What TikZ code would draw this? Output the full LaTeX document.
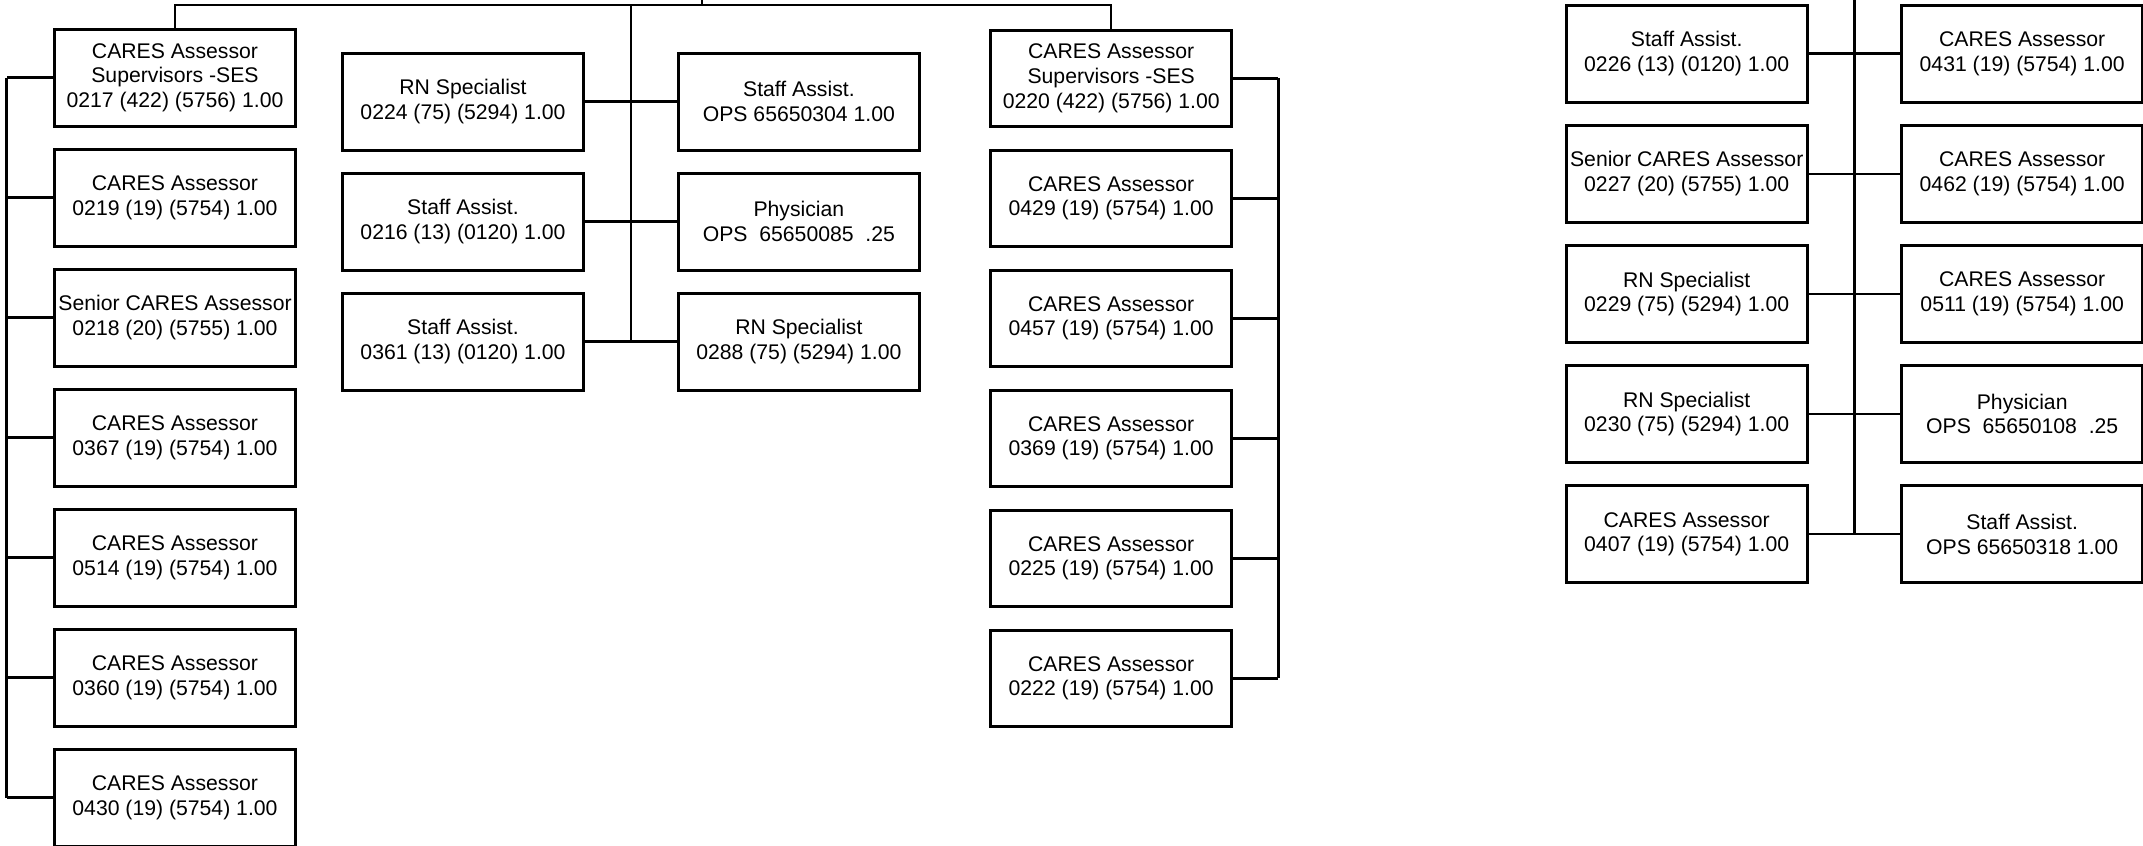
\documentclass[tikz,border=0pt]{standalone}
\usepackage{fontspec}
\setmainfont{Liberation Sans}
\begin{document}
\begin{tikzpicture}[x=0.5pt,y=-0.5pt,
  box/.style={draw,line width=1.5pt,minimum width=120.5pt,minimum height=48.3pt,inner sep=0pt,align=center,font=\fontsize{10.6}{12.3}\selectfont},
  conn/.style={line width=1.25pt}]
\useasboundingbox (0,0) rectangle (2143,846);
% left column
\node[box] (L1) at (175,77.7) {CARES Assessor\\Supervisors -SES\\0217 (422) (5756) 1.00};
\node[box] (L2) at (175,197.7) {CARES Assessor\\0219 (19) (5754) 1.00};
\node[box] (L3) at (175,317.7) {Senior CARES Assessor\\0218 (20) (5755) 1.00};
\node[box] (L4) at (175,437.7) {CARES Assessor\\0367 (19) (5754) 1.00};
\node[box] (L5) at (175,557.7) {CARES Assessor\\0514 (19) (5754) 1.00};
\node[box] (L6) at (175,677.7) {CARES Assessor\\0360 (19) (5754) 1.00};
\node[box] (L7) at (175,797.7) {CARES Assessor\\0430 (19) (5754) 1.00};
% middle columns
\node[box] (Ma1) at (463,101.7) {RN Specialist\\0224 (75) (5294) 1.00};
\node[box] (Ma2) at (463,221.7) {Staff Assist.\\0216 (13) (0120) 1.00};
\node[box] (Ma3) at (463,341.7) {Staff Assist.\\0361 (13) (0120) 1.00};
\node[box] (Mb1) at (798.9,101.7) {Staff Assist.\\OPS 65650304 1.00};
\node[box] (Mb2) at (798.9,221.7) {Physician\\OPS\ \ 65650085\ \ .25};
\node[box] (Mb3) at (798.9,341.7) {RN Specialist\\0288 (75) (5294) 1.00};
% right column
\node[box] (R1) at (1111.2,78.3) {CARES Assessor\\Supervisors -SES\\0220 (422) (5756) 1.00};
\node[box] (R2) at (1111.2,198.3) {CARES Assessor\\0429 (19) (5754) 1.00};
\node[box] (R3) at (1111.2,318.3) {CARES Assessor\\0457 (19) (5754) 1.00};
\node[box] (R4) at (1111.2,438.3) {CARES Assessor\\0369 (19) (5754) 1.00};
\node[box] (R5) at (1111.2,558.3) {CARES Assessor\\0225 (19) (5754) 1.00};
\node[box] (R6) at (1111.2,678.3) {CARES Assessor\\0222 (19) (5754) 1.00};
% far right group
\node[box] (FL1) at (1686.7,53.7) {Staff Assist.\\0226 (13) (0120) 1.00};
\node[box] (FL2) at (1686.7,173.8) {Senior CARES Assessor\\0227 (20) (5755) 1.00};
\node[box] (FL3) at (1686.7,293.9) {RN Specialist\\0229 (75) (5294) 1.00};
\node[box] (FL4) at (1686.7,414.0) {RN Specialist\\0230 (75) (5294) 1.00};
\node[box] (FL5) at (1686.7,534.2) {CARES Assessor\\0407 (19) (5754) 1.00};
\node[box] (FR1) at (2022.2,53.7) {CARES Assessor\\0431 (19) (5754) 1.00};
\node[box] (FR2) at (2022.2,173.8) {CARES Assessor\\0462 (19) (5754) 1.00};
\node[box] (FR3) at (2022.2,293.9) {CARES Assessor\\0511 (19) (5754) 1.00};
\node[box] (FR4) at (2022.2,414.0) {Physician\\OPS\ \ 65650108\ \ .25};
\node[box] (FR5) at (2022.2,534.2) {Staff Assist.\\OPS 65650318 1.00};
% connectors
\coordinate (topL) at (175,5);
\coordinate (tick) at (702,0);
\coordinate (mbus) at (631,5);
\coordinate (lbus) at (6.5,0);
\coordinate (rbus) at (1278.3,0);
\coordinate (fbus) at (1854.5,0);
\draw[conn] (L1.north) -- (L1.north |- topL) -- (R1.north |- topL) -- (R1.north);
\draw[conn] (tick) -- (tick |- topL);
\draw[conn] (mbus) -- (mbus |- Ma3.east);
\foreach \i in {1,2,3} \draw[conn] (Ma\i.east) -- (Mb\i.west);
\draw[conn] (L1.west -| lbus) -- (L7.west -| lbus);
\foreach \i in {1,...,7} \draw[conn] (L\i.west) -- (L\i.west -| lbus);
\draw[conn] (R1.east -| rbus) -- (R6.east -| rbus);
\foreach \i in {1,...,6} \draw[conn] (R\i.east) -- (R\i.east -| rbus);
\draw[conn] (fbus) -- (fbus |- FL5.east);
\foreach \i in {1,...,5} \draw[conn] (FL\i.east) -- (FR\i.west);
\end{tikzpicture}
\end{document}
